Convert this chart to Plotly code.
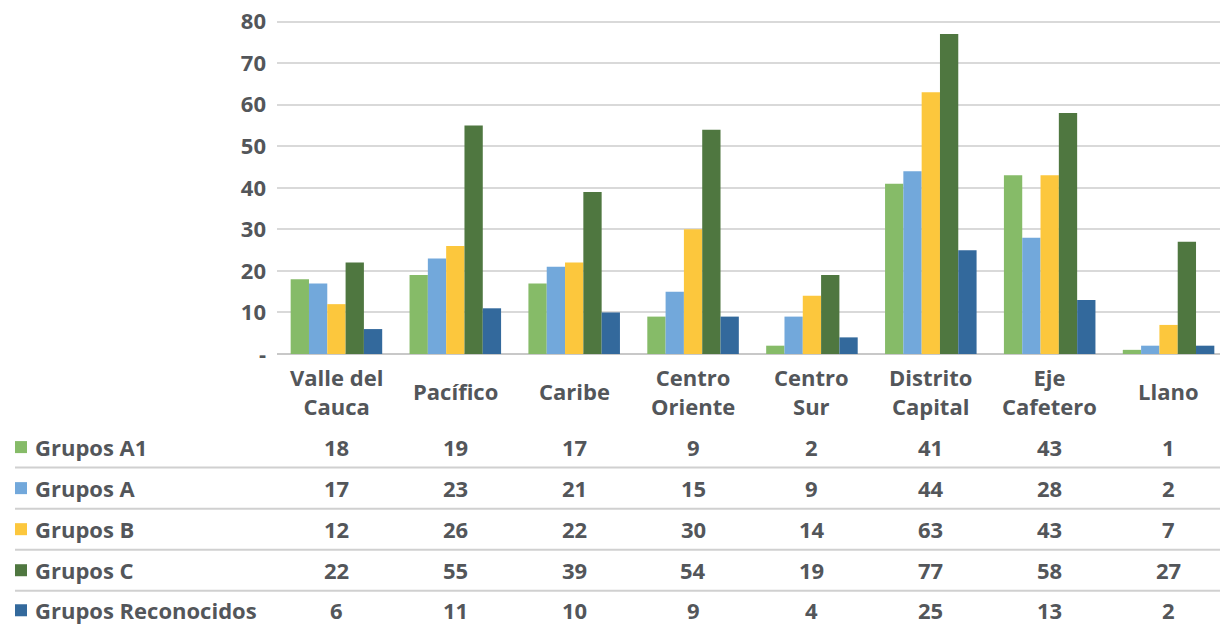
import plotly.graph_objects as go

categories = ["Valle del<br>Cauca", "Pacífico", "Caribe", "Centro<br>Oriente", "Centro<br>Sur",
              "Distrito<br>Capital", "Eje<br>Cafetero", "Llano"]
series_names = ["Grupos A1", "Grupos A", "Grupos B", "Grupos C", "Grupos Reconocidos"]
grupos_a1 = [18, 19, 17, 9, 2, 41, 43, 1]
grupos_a = [17, 23, 21, 15, 9, 44, 28, 2]
grupos_b = [12, 26, 22, 30, 14, 63, 43, 7]
grupos_c = [22, 55, 39, 54, 19, 77, 58, 27]
grupos_rec = [6, 11, 10, 9, 4, 25, 13, 2]
y_ticks = [0, 10, 20, 30, 40, 50, 60, 70, 80]
y_ticktext = ["-", "10", "20", "30", "40", "50", "60", "70", "80"]

series_values = [grupos_a1, grupos_a, grupos_b, grupos_c, grupos_rec]
colors = ["#86bb68", "#72a8db", "#fcc73d", "#4f7740", "#33699c"]

OFF = 8  # page body margin
W, H = 1228 - OFF, 624 - OFF
YTOP = 80.4
L, R, B = 277 - OFF, 0, 270
T = 22 - OFF - (YTOP - 80) * 332 / 80
PW, PH = W - L - R, H - T - B
TXT = "#53565a"
FONT = "Open Sans"
FW = "bold"
FS = 22

def px_x(p):
    return (p - OFF - L) / PW

def px_y(p):
    return (H - B - (p - OFF)) / PH

fig = go.Figure()
for name, vals, col in zip(series_names, series_values, colors):
    fig.add_trace(go.Bar(name=name, x=categories, y=vals, marker=dict(color=col, line=dict(width=0))))

annotations = []
shapes = []
for c in categories:
    annotations.append(dict(x=c, xref="x", y=px_y(391), yref="paper", text=c,
                            showarrow=False, xanchor="center", yanchor="middle",
                            font=dict(family=FONT, size=FS, color=TXT, weight=FW)))
row_y = [447, 488, 529, 570, 610]
for i, (name, vals, col) in enumerate(zip(series_names, series_values, colors)):
    ry = row_y[i]
    annotations.append(dict(x=px_x(33), xref="paper", y=px_y(ry), yref="paper", text=name,
                            showarrow=False, xanchor="left", yanchor="middle",
                            font=dict(family=FONT, size=FS, color=TXT, weight=FW)))
    shapes.append(dict(type="rect", xref="paper", yref="paper", x0=px_x(15), x1=px_x(27),
                       y0=px_y(ry + 6), y1=px_y(ry - 6), fillcolor=col, line=dict(width=0)))
    for c, v in zip(categories, vals):
        annotations.append(dict(x=c, xref="x", y=px_y(ry), yref="paper", text=str(v),
                                showarrow=False, xanchor="center", yanchor="middle",
                                font=dict(family=FONT, size=FS, color=TXT, weight=FW)))
for ly in [467.5, 508.5, 549.5, 590.5]:
    shapes.append(dict(type="line", xref="paper", yref="paper", x0=px_x(15), x1=px_x(1228),
                       y0=px_y(ly), y1=px_y(ly), line=dict(color="#d0d0d0", width=2)))

fig.update_layout(
    width=W, height=H,
    margin=dict(l=L, r=R, t=T, b=B, autoexpand=False),
    paper_bgcolor="white", plot_bgcolor="white",
    barmode="group", bargap=0.23, bargroupgap=0,
    showlegend=False,
    xaxis=dict(showticklabels=False, showgrid=False, zeroline=False, showline=False, ticks=""),
    yaxis=dict(range=[0, YTOP], tickvals=y_ticks, ticktext=y_ticktext, ticklabeloverflow="allow",
               tickfont=dict(family=FONT, size=FS, color=TXT, weight=FW), showgrid=True, gridcolor="#d9d9d9",
               gridwidth=2, zeroline=True, zerolinecolor="#c8c8c8", zerolinewidth=2,
               ticks="", ticklabelstandoff=10),
    annotations=annotations, shapes=shapes,
)
fig.write_html("out.html")
